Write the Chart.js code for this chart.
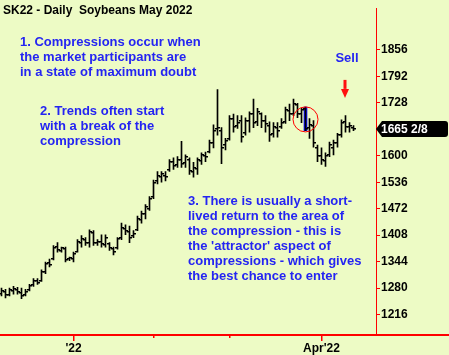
<!DOCTYPE html>
<html>
<head>
<meta charset="utf-8">
<script src="https://cdn.jsdelivr.net/npm/chart.js@4.4.1/dist/chart.umd.min.js"></script>
<style>
  body { margin: 0; background: #edfbc5; }
  #wrap { width: 449px; height: 355px; position: relative; }
</style>
</head>
<body>
<div id="wrap"><canvas id="myChart"></canvas></div>
<script>
// SK22 daily bars, index 0 = early Dec 2021, index 18 = first session of '22
var opens  = [1265,1270,1264,1272,1276,1268,1263,1275,1287,1296,1298,1320,1340,1350,1380,1370,1374,1350,1350,1368,
              1390,1396,1390,1412,1388,1392,1385,1386,1375,1376,1400,1424,1415,1405,1420,1445,1460,1472,1500,1540,
              1548,1552,1565,1584,1578,1590,1582,1590,1560,1568,1588,1600,1610,1630,1665,1660,1625,1640,1690,1672,
              1684,1655,1684,1700,1682,1700,1684,1672,1652,1668,1670,1682,1708,1702,1722,1702,1712,1668,1672,1620,
              1600,1588,1602,1620,1630,1650,1682,1670,1668]
var highs  = [1280,1277,1280,1284,1282,1280,1277,1289,1303,1303,1324,1343,1350,1383,1390,1379,1379,1355,1367,1397,
              1407,1402,1421,1419,1397,1409,1409,1390,1379,1402,1437,1433,1430,1419,1454,1466,1482,1501,1541,1562,
              1562,1562,1591,1595,1598,1635,1602,1595,1584,1595,1607,1609,1638,1675,1760,1668,1642,1697,1701,1697,
              1697,1692,1706,1737,1715,1704,1697,1682,1680,1680,1690,1718,1725,1737,1727,1715,1718,1690,1685,1626,
              1619,1607,1633,1638,1654,1687,1697,1680,1673]
var lows   = [1261,1256,1261,1265,1265,1254,1261,1273,1284,1289,1296,1315,1331,1348,1367,1367,1343,1346,1343,1367,
              1379,1383,1379,1383,1383,1379,1379,1371,1360,1374,1397,1409,1390,1402,1419,1437,1447,1468,1496,1532,
              1536,1539,1562,1567,1572,1572,1572,1555,1548,1555,1579,1586,1607,1619,1650,1581,1614,1638,1657,1666,
              1633,1650,1657,1668,1673,1668,1657,1635,1645,1645,1666,1678,1685,1697,1692,1680,1661,1642,1621,1586,
              1579,1574,1598,1602,1621,1645,1657,1657,1661]
var closes = [1272,1262,1275,1278,1270,1260,1271,1285,1298,1292,1318,1338,1335,1378,1372,1376,1348,1352,1362,1392,
              1398,1388,1415,1388,1392,1386,1400,1378,1368,1398,1425,1418,1400,1410,1448,1460,1475,1495,1535,1550,
              1555,1548,1585,1575,1590,1580,1596,1562,1570,1590,1602,1598,1632,1660,1668,1620,1636,1690,1670,1680,
              1645,1685,1700,1680,1705,1684,1676,1650,1670,1660,1680,1710,1700,1725,1700,1710,1665,1675,1630,1600,
              1590,1600,1625,1630,1650,1680,1670,1672,1665.25]

var monthTicks  = [18, 38, 57, 80]
var monthLabels = ["'22", "", "", "Apr'22"]
var priceTicks  = [1216, 1280, 1344, 1408, 1472, 1536, 1600, 1728, 1792, 1856]
var lastPriceLabel = '1665 2/8'

var compressionBar = 76   // blue bar inside the red circle
var circlePrice = 1688
var sellBar = 86
var sellArrowTip = 1740

var notes = [
  { lines: ['1. Compressions occur when', 'the market participants are', 'in a state of maximum doubt'], x: 20, y: 46 },
  { lines: ['2. Trends often start', 'with a break of the', 'compression'], x: 40, y: 115 },
  { lines: ['3. There is usually a short-', 'lived return to the area of', 'the compression - this is',
            "the 'attractor' aspect of", 'compressions - which gives', 'the best chance to enter'], x: 188, y: 205 }
]

var FONT = '"Liberation Sans", Arial, sans-serif'
Chart.defaults.font.family = FONT

var extras = {
  id: 'extras',
  beforeDraw: function (chart) {
    var ctx = chart.ctx
    ctx.save()
    ctx.fillStyle = '#edfbc5'
    ctx.fillRect(0, 0, ctx.canvas.width, ctx.canvas.height)
    ctx.restore()
  },
  afterDatasetsDraw: function (chart) {
    var ctx = chart.ctx
    var xs = chart.scales.x, ys = chart.scales.y
    ctx.save()
    // bottom axis line with month ticks, full width under both scales
    ctx.fillStyle = '#ff0000'
    var by = Math.round(xs.top)
    ctx.fillRect(0, by - 1, ys.right, 2)
    monthTicks.forEach(function (v, k) {
      var tx = Math.round(xs.getPixelForValue(v))
      ctx.fillRect(tx - 1, by, 1.5, monthLabels[k] ? 6 : 3)
    })
    // open / close ticks
    ctx.fillStyle = '#000'
    for (var i = 0; i < opens.length; i++) {
      var px = xs.getPixelForValue(i)
      var oy = Math.round(ys.getPixelForValue(opens[i]))
      var cy = Math.round(ys.getPixelForValue(closes[i]))
      ctx.fillRect(px - 2.5, oy - 1, 2, 1.5)
      ctx.fillRect(px + 0.5, cy - 1, 2, 1.5)
    }
    // red circle round the compression bar
    ctx.strokeStyle = '#ff0000'
    ctx.lineWidth = 1
    ctx.beginPath()
    ctx.arc(xs.getPixelForValue(compressionBar), ys.getPixelForValue(circlePrice), 12.5, 0, Math.PI * 2)
    ctx.stroke()
    // sell arrow
    var ax = xs.getPixelForValue(sellBar) - 0.5
    var ay = ys.getPixelForValue(sellArrowTip)
    ctx.fillStyle = '#ff1010'
    ctx.fillRect(ax - 1.5, ay - 18, 3, 9)
    ctx.beginPath()
    ctx.moveTo(ax - 4, ay - 9)
    ctx.lineTo(ax + 4, ay - 9)
    ctx.lineTo(ax, ay)
    ctx.closePath()
    ctx.fill()
    // texts
    ctx.fillStyle = '#2424f2'
    ctx.font = 'bold 13px ' + FONT
    ctx.textBaseline = 'alphabetic'
    ctx.textAlign = 'left'
    notes.forEach(function (n) {
      n.lines.forEach(function (s, k) { ctx.fillText(s, n.x, n.y + k * 15) })
    })
    ctx.textAlign = 'center'
    ctx.fillText('Sell', ax + 2, 62)
    ctx.fillStyle = '#000'
    ctx.textAlign = 'left'
    ctx.font = 'bold 12px ' + FONT
    ctx.fillText('SK22 - Daily  Soybeans May 2022', 3, 14)
    ctx.restore()
  },
  afterDraw: function (chart) {
    var ctx = chart.ctx
    var r = chart.chartArea.right
    var ly = Math.round(chart.scales.y.getPixelForValue(closes[closes.length - 1]))
    ctx.save()
    // last price box
    ctx.fillStyle = '#000'
    ctx.beginPath()
    ctx.moveTo(r, ly)
    ctx.lineTo(r + 6, ly - 8)
    ctx.lineTo(445, ly - 8)
    ctx.quadraticCurveTo(448, ly - 8, 448, ly - 5)
    ctx.lineTo(448, ly + 5)
    ctx.quadraticCurveTo(448, ly + 8, 445, ly + 8)
    ctx.lineTo(r + 6, ly + 8)
    ctx.closePath()
    ctx.fill()
    ctx.fillStyle = '#fff'
    ctx.font = 'bold 12px ' + FONT
    ctx.textBaseline = 'middle'
    ctx.fillText(lastPriceLabel, r + 5, ly + 1)
    ctx.restore()
  }
}

var ctx = document.getElementById('myChart').getContext('2d')
var myChart = new Chart(ctx, {
  type: 'bar',
  data: {
    datasets: [{
      data: highs.map(function (h, i) { return { x: i, y: [lows[i], h] } }),
      backgroundColor: '#000',
      barThickness: 1,
      borderWidth: 0
    }, {
      data: [{ x: compressionBar, y: [lows[compressionBar], highs[compressionBar]] }],
      backgroundColor: '#0a0aff',
      barThickness: 3,
      borderWidth: 0
    }]
  },
  options: {
    responsive: true,
    maintainAspectRatio: false,
    animation: false,
    grouped: false,
    layout: { padding: 0 },
    plugins: { legend: { display: false }, tooltip: { enabled: false } },
    scales: {
      x: {
        type: 'linear',
        offset: false,
        min: -0.375,
        max: 93.625,
        afterFit: function (s) { s.height = 20 },
        afterBuildTicks: function (s) { s.ticks = monthTicks.map(function (v) { return { value: v } }) },
        grid: { drawOnChartArea: false, drawTicks: false, offset: false },
        border: { display: false },
        ticks: {
          autoSkip: false,
          maxRotation: 0,
          padding: 6,
          color: '#000',
          font: { size: 12, weight: 'bold' },
          callback: function (v) { return monthLabels[monthTicks.indexOf(v)] }
        }
      },
      y: {
        position: 'right',
        min: 1166.4,
        max: 1957,
        afterFit: function (s) { s.width = 73 },
        afterBuildTicks: function (s) { s.ticks = priceTicks.map(function (v) { return { value: v } }) },
        grid: { drawOnChartArea: false, color: '#ff0000', tickLength: 4 },
        border: { color: '#ff0000', width: 1 },
        ticks: {
          padding: 1,
          color: '#000',
          font: { size: 12, weight: 'bold' },
          callback: function (v) { return String(v) }
        }
      }
    }
  },
  plugins: [extras]
})
</script>
</body>
</html>
